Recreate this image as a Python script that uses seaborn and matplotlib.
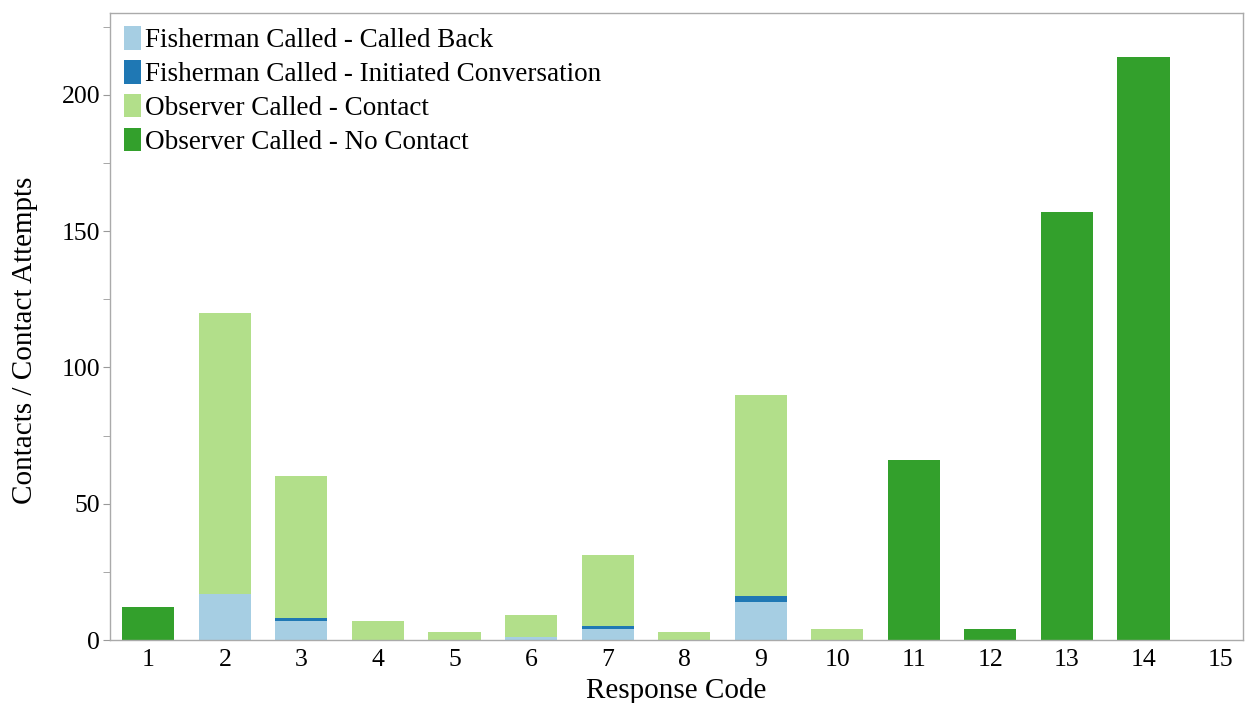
import matplotlib
matplotlib.use("Agg")
import matplotlib.pyplot as plt
from matplotlib.patches import Patch
from matplotlib.ticker import MultipleLocator
import seaborn as sns
import pandas as pd
import numpy as np

# data
codes = [str(i) for i in range(1, 16)]
called_back = [0, 17, 7, 0, 0, 1, 4, 0, 14, 0, 0, 0, 0, 0, 0]
initiated = [0, 0, 1, 0, 0, 0, 1, 0, 2, 0, 0, 0, 0, 0, 0]
contact = [0, 103, 52, 7, 3, 8, 26, 3, 74, 4, 0, 0, 0, 0, 0]
no_contact = [12, 0, 0, 0, 0, 0, 0, 0, 0, 0, 66, 4, 157, 214, 0]

series = ["Fisherman Called - Called Back", "Fisherman Called - Initiated Conversation",
          "Observer Called - Contact", "Observer Called - No Contact"]
colors = ["#a6cee3", "#1f78b4", "#b2df8a", "#33a02c"]

sns.set_style("white")
plt.rcParams['font.family'] = ['Liberation Serif', 'DejaVu Serif']
plt.rcParams['text.color'] = 'black'
plt.rcParams['axes.labelcolor'] = 'black'
plt.rcParams['xtick.color'] = 'black'
plt.rcParams['ytick.color'] = 'black'

df = pd.DataFrame({"code": codes, "cb": called_back, "init": initiated,
                   "contact": contact, "nc": no_contact})
# cumulative heights for stacking
df["c1"] = df["cb"]
df["c2"] = df["c1"] + df["init"]
df["c3"] = df["c2"] + df["contact"]
df["c4"] = df["c3"] + df["nc"]

fig = plt.figure(figsize=(12.46, 7.03), dpi=100)
ax = fig.add_axes([0.0883, 0.0896, 0.9093, 0.892])

# draw tallest layer first so lower layers sit on top
for col, c in zip(["c4", "c3", "c2", "c1"], colors[::-1]):
    sns.barplot(data=df, x="code", y=col, order=codes, color=c, width=0.68,
                saturation=1, linewidth=0, ax=ax)

ax.set_xlim(-0.5, 14.3)
ax.set_ylim(0, 230)
ax.yaxis.set_major_locator(MultipleLocator(50))
ax.yaxis.set_minor_locator(MultipleLocator(25))
ax.tick_params(axis="y", which="both", left=True, length=5, color="#999999",
               labelsize=18.5, labelcolor="black", pad=2)
ax.tick_params(axis="x", bottom=False, labelsize=18.5, labelcolor="black", pad=3)
for s in ax.spines.values():
    s.set_color("#aaaaaa")
    s.set_linewidth(1)

ax.set_xlabel("Response Code", fontsize=21, labelpad=5)
ax.set_ylabel("Contacts / Contact Attempts", fontsize=21)
ax.yaxis.set_label_coords(-0.064, 0.478)

handles = [Patch(facecolor=c, edgecolor="none") for c in colors]
ax.legend(handles, series, loc="upper left", frameon=False, fontsize=19.5,
          handlelength=0.65, handleheight=0.95, handletextpad=0.15,
          labelspacing=0.25, borderaxespad=0.3, borderpad=0.2)

fig.savefig("out.png", dpi=100)
